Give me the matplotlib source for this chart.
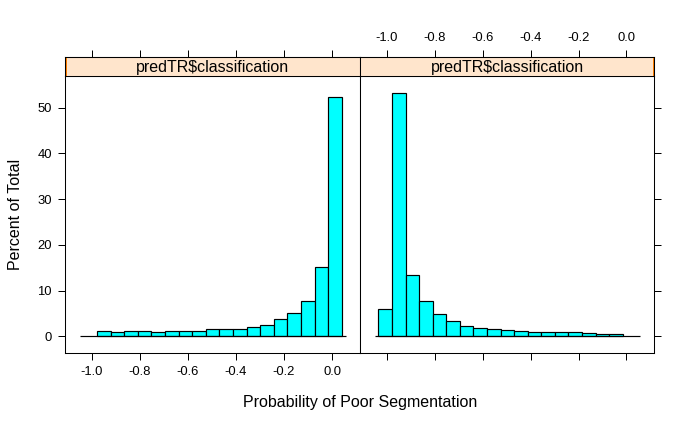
import matplotlib
matplotlib.use("Agg")
import matplotlib.pyplot as plt
import numpy as np

plt.rcParams['font.family'] = ['Liberation Sans', 'DejaVu Sans']

# panel titles (both strips show the same conditioning variable)
strip_labels = ["predTR$classification", "predTR$classification"]

# histogram breaks: range of the data in each panel and percent per bin
left_range = (-0.978, 0.040)
left_pct = [1.09, 0.87, 1.09, 1.09, 0.87, 1.09, 1.09, 1.09, 1.53,
            1.53, 1.53, 1.97, 2.41, 3.72, 5.03, 7.72, 15.1, 52.3]

right_range = (-1.034, -0.016)
right_pct = [5.90, 53.13, 13.34, 7.73, 4.81, 3.28, 2.19, 1.75, 1.53,
             1.31, 1.09, 0.87, 0.87, 0.87, 0.87, 0.66, 0.44, 0.44]

baseline_span = (-1.05, 0.056)

x_ticks = [-1.0, -0.8, -0.6, -0.4, -0.2, 0.0]
x_ticklabels = ["-1.0", "-0.8", "-0.6", "-0.4", "-0.2", "0.0"]
y_ticks = [0, 10, 20, 30, 40, 50]

xlab = "Probability of Poor Segmentation"
ylab = "Percent of Total"

XLIM = (-1.111, 0.116)
YLIM = (-3.72, 56.9)

W, H = 693, 424
fig = plt.figure(figsize=(W / 100, H / 100), dpi=100)


def px_axes(x0, y0, x1, y1):
    """Axes from pixel box (top-left origin)"""
    return fig.add_axes([x0 / W, 1 - y1 / H, (x1 - x0) / W, (y1 - y0) / H])


def style_ticks(ax):
    ax.tick_params(direction='out', length=5.0, width=0.72, labelsize=9.4,
                   colors='black', pad=4.5)
    for s in ax.spines.values():
        s.set_linewidth(0.75)


def draw_panel(ax, rng, pct):
    breaks = np.linspace(rng[0], rng[1], len(pct) + 1)
    ax.bar(breaks[:-1], pct, width=np.diff(breaks), align='edge',
           color='#00ffff', edgecolor='black', linewidth=0.85, zorder=2)
    ax.hlines(0, baseline_span[0], baseline_span[1], color='black',
              linewidth=0.85, zorder=3)
    ax.set_xlim(XLIM)
    ax.set_ylim(YLIM)
    ax.set_xticks(x_ticks)
    ax.set_yticks(y_ticks)
    style_ticks(ax)


def draw_strip(ax, label, side):
    ax.set_xlim(0, 1)
    ax.set_ylim(0, 1)
    ax.set_facecolor('#ffe5cc')
    # thin darker level marker at one edge
    if side == 'left':
        ax.axvspan(0, 0.006, color='#ff7f00', lw=0)
    else:
        ax.axvspan(0.994, 1, color='#ff7f00', lw=0)
    ax.text(0.5, 0.45, label, ha='center', va='center', fontsize=11.5)
    ax.set_yticks([])
    style_ticks(ax)


# panels
axL = px_axes(65, 76, 360, 353.3)
axR = px_axes(360, 76, 654.3, 353.3)
draw_panel(axL, left_range, left_pct)
draw_panel(axR, right_range, right_pct)

axL.set_xticklabels(x_ticklabels)
axL.tick_params(right=False)
axR.set_xticklabels([])
axR.tick_params(left=False, right=True, labelleft=False)

# strips with top axis
sL = px_axes(65, 57.3, 360, 76)
sR = px_axes(360, 57.3, 654.3, 76)
draw_strip(sL, strip_labels[0], 'left')
draw_strip(sR, strip_labels[1], 'right')
for s in (sL, sR):
    top = s.secondary_xaxis('top', functions=(
        lambda v: XLIM[0] + v * (XLIM[1] - XLIM[0]),
        lambda v: (v - XLIM[0]) / (XLIM[1] - XLIM[0])))
    top.set_xticks(x_ticks)
    top.tick_params(direction='out', length=5.0, width=0.72, labelsize=9.4,
                    pad=4.5)
    top.spines['top'].set_linewidth(0.75)
    s.set_xticks([])
    if s is sL:
        top.set_xticklabels([])
    else:
        top.set_xticklabels(x_ticklabels)

fig.text(360 / W, 1 - 403 / H, xlab, ha='center', va='center', fontsize=11.5)
fig.text(16 / W, 1 - 214.5 / H, ylab, ha='center', va='center',
         rotation=90, fontsize=11.5)

fig.savefig("out.png", dpi=100)
